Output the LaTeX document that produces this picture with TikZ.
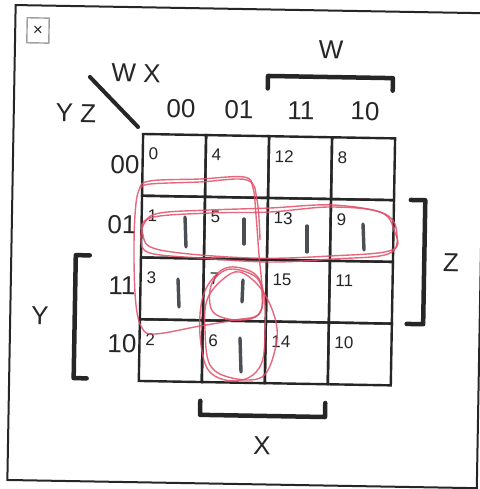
\documentclass[tikz,border=0pt]{standalone}
\usepackage{fontspec}
\setmainfont{Liberation Sans}
\definecolor{ink}{HTML}{262626}
\definecolor{pen}{RGB}{226,78,104}
\definecolor{pencil}{HTML}{4a4f55}
\begin{document}
\begin{tikzpicture}[x=1pt,y=-1pt,
  big/.style={font=\fontsize{26}{26}\selectfont, text=ink, inner sep=0},
  num/.style={font=\fontsize{17}{17}\selectfont, text=ink, inner sep=0, anchor=north west},
  cell/.style={draw=ink, line width=2.4pt, minimum width=63pt, minimum height=61.75pt, inner sep=0, anchor=north west},
  brace/.style={draw=ink, line width=4.5pt, line cap=round, line join=round},
  redloop/.style={draw=pen, line width=1.4pt, opacity=0.85},
  pencilmark/.style={draw=pencil, line width=3.4pt, line cap=round}]
\useasboundingbox (0,0) rectangle (479,489);
\fill[white] (0,0) rectangle (479,489);
\begin{scope}[rotate around={-1:(240,245)}, transform shape]
  \draw[ink, line width=2pt] (11.5,9) rectangle (481,484);
  \node[draw=gray!75, line width=1.4pt, minimum width=22pt, minimum height=25pt, inner sep=0,
        font=\fontsize{17}{17}\selectfont, text=ink] (icon) at (34.3,34) {×};
  \foreach \cn/\cx/\cy in {0/0/0,4/1/0,12/2/0,8/3/0,1/0/1,5/1/1,13/2/1,9/3/1,3/0/2,7/1/2,15/2/2,11/3/2,2/0/3,6/1/3,14/2/3,10/3/3}{
    \node[cell] (c\cn) at ({140+63*\cx},{134.5+61.75*\cy}) {};
    \node[num] (n\cn) at ([xshift=7pt,yshift=-15pt]c\cn.north west) {\cn};
  }
  \node[big] (wx) at (133,74.8) {W X};
  \node[big] (yz) at (73.7,116) {Y Z};
  \coordinate (d1) at (87,79.6);
  \coordinate (d2) at (136,128.8);
  \draw[ink, line width=4pt, line cap=round] (d1) -- (d2);
  \node[big] (h0) at (178.6,110) {00};
  \node[big] (h1) at (236.6,110) {01};
  \node[big] (h2) at (298.7,110) {11};
  \node[big] (h3) at (362.7,109) {10};
  \node[big] (r0) at (123.6,167) {00};
  \node[big] (r1) at (121.7,227) {01};
  \node[big] (r2) at (122.7,288) {11};
  \node[big] (r3) at (123.7,346) {10};
  \node[big] (lw) at (327.6,48.4) {W};
  \node[big] (ly) at (41.2,319.5) {Y};
  \node[big] (lz) at (451.3,259.3) {Z};
  \node[big] (lx) at (265.5,445.6) {X};
  \coordinate (w1) at (265,88); \coordinate (w2) at (265,75.5);
  \coordinate (w3) at (390,75.5); \coordinate (w4) at (390,88);
  \draw[brace] (w1) -- (w2) -- (w3) -- (w4);
  \coordinate (y1) at (90,258); \coordinate (y2) at (76,258);
  \coordinate (y3) at (76,381); \coordinate (y4) at (89,381);
  \draw[brace] (y1) -- (y2) -- (y3) -- (y4);
  \coordinate (z1) at (410,197); \coordinate (z2) at (424.5,197);
  \coordinate (z3) at (424.5,321); \coordinate (z4) at (408,321);
  \draw[brace] (z1) -- (z2) -- (z3) -- (z4);
  \coordinate (x1) at (203,401.5); \coordinate (x2) at (203,415.5);
  \coordinate (x3) at (328,415.5); \coordinate (x4) at (328,401.5);
  \draw[brace] (x1) -- (x2) -- (x3) -- (x4);
\end{scope}
% pencil marks
\draw[pencilmark] (185,217) -- (186,247);
\draw[pencilmark] (244,219) -- (244,244);
\draw[pencilmark] (307,226) -- (307,252);
\draw[pencilmark] (363,224) -- (364,250);
\draw[pencilmark] (178,279) -- (179,307);
\draw[pencilmark] (243,280) -- (242,302);
\draw[pencilmark] (240,338) -- (241,372);
% red loops
\draw[redloop] plot[smooth cycle, tension=0.6] coordinates {(150,181) (200,179) (244,177) (253,188) (256,215) (259,255) (262,290) (259,314) (235,320) (200,326) (155,334) (142,328) (136,305) (134,260) (135,215) (139,190)};
\draw[redloop] plot[smooth, tension=0.6] coordinates {(141,188) (150,184) (200,182) (247,180) (257,200) (260,240)};
\draw[redloop] plot[smooth cycle, tension=0.6] coordinates {(145,222) (160,213) (210,210) (270,208) (333,205) (385,214) (397,235) (388,254) (333,259) (270,262) (200,258) (150,253) (141,240)};
\draw[redloop] plot[smooth cycle, tension=0.6] coordinates {(150,218) (210,213) (270,212) (330,207) (380,212) (394,230) (392,250) (330,256) (250,258) (160,250) (143,235)};
\draw[redloop] plot[smooth cycle, tension=0.6] coordinates {(230,267) (255,274) (264,295) (265,330) (262,362) (248,378) (225,380) (207,368) (200,335) (202,300) (213,278)};
\draw[redloop] plot[smooth cycle, tension=0.6] coordinates {(240,272) (262,290) (276,322) (275,350) (262,377) (232,378) (210,365) (205,330) (207,300) (222,280)};
\draw[redloop] plot[smooth cycle, tension=0.6] coordinates {(233,269) (257,278) (263,300) (257,316) (235,320) (213,312) (210,290) (218,275)};
\end{tikzpicture}
\end{document}
